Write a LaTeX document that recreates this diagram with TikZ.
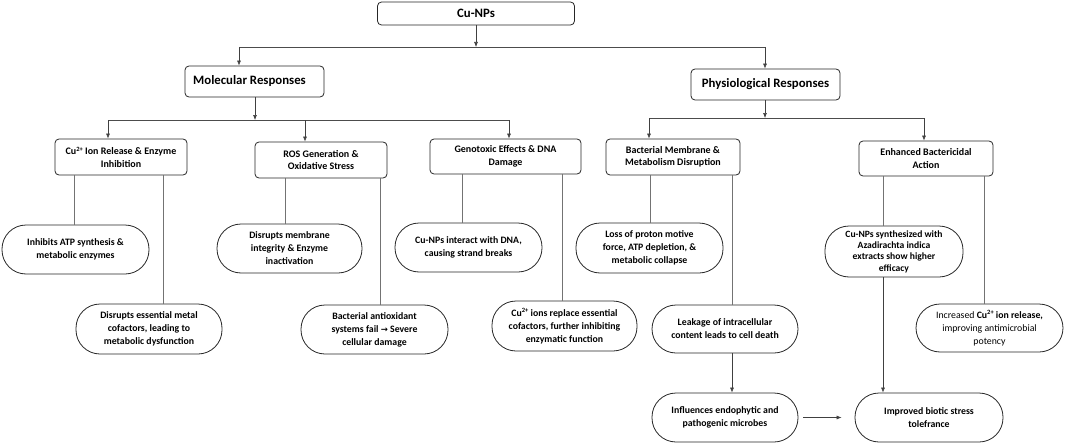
\documentclass[tikz,border=0pt]{standalone}
\usepackage{fontspec}
\setmainfont{Carlito}
\newfontfamily\arrfont{DejaVu Sans}
\usetikzlibrary{arrows.meta,calc}
\newcommand{\supp}[1]{\raisebox{0.35em}{\fontsize{6.5}{6.5}\selectfont #1}}
\begin{document}
\begin{tikzpicture}[x=1pt,y=-1pt,
 box/.style={draw=black!85, rounded corners=4pt, line width=0.8pt, align=center, font=\bfseries\fontsize{10}{12.5}\selectfont, inner sep=0pt},
 topbox/.style={box, font=\bfseries\fontsize{12.8}{15}\selectfont},
 leaf/.style={draw=black!85, rounded corners=24pt, line width=0.8pt, align=center, font=\bfseries\fontsize{9.8}{13}\selectfont, inner sep=0pt},
 conn/.style={draw=black!55, line width=0.6pt},
 arr/.style={draw=black!75, line width=0.6pt, -{Latex[length=5pt,width=4pt]}},
]
\useasboundingbox (0,0) rectangle (1065,444);
% top
\node[topbox, minimum width=197, minimum height=23] (cu) at (476,13.5) {Cu-NPs};
\node[topbox, minimum width=139, minimum height=31] (mol) at (254.5,81.5) {\hspace*{-10pt}Molecular Responses};
\node[topbox, minimum width=149, minimum height=31] (phys) at (765.5,84.5) {Physiological Responses};
% children
\node[box, minimum width=132, minimum height=36] (c1) at (121,157) {Cu\supp{2+} Ion Release \& Enzyme\\Inhibition};
\node[box, minimum width=132, minimum height=36] (c2) at (321,160) {ROS Generation \&\\Oxidative Stress};
\node[box, minimum width=151, minimum height=35] (c3) at (505.5,156.5) {Genotoxic Effects \& DNA\\Damage};
\node[box, minimum width=134, minimum height=36] (c4) at (673,157) {Bacterial Membrane \&\\Metabolism Disruption};
\node[box, minimum width=134, minimum height=35] (c5) at (926,158.5) {Enhanced Bactericidal\\Action};
% leaves
\node[leaf, minimum width=147, minimum height=49] (l1) at (75.5,249.5) {Inhibits ATP synthesis \&\\metabolic enzymes};
\node[leaf, minimum width=146, minimum height=50] (l2) at (149,329) {Disrupts essential metal\\cofactors, leading to\\metabolic dysfunction};
\node[leaf, minimum width=145, minimum height=49] (l3) at (289.5,248.5) {Disrupts membrane\\integrity \& Enzyme\\inactivation};
\node[leaf, minimum width=147, minimum height=49] (l4) at (374.5,329.5) {Bacterial antioxidant\\systems fail {\arrfont\bfseries\fontsize{8.5}{13}\selectfont →} Severe\\cellular damage};
\node[leaf, minimum width=147, minimum height=49] (l5) at (468.5,247.5) {Cu-NPs interact with DNA,\\causing strand breaks};
\node[leaf, minimum width=145, minimum height=50] (l6) at (564.5,326) {Cu\supp{2+} ions replace essential\\cofactors, further inhibiting\\enzymatic function};
\node[leaf, minimum width=147, minimum height=50] (l7) at (649.5,248) {Loss of proton motive\\force, ATP depletion, \&\\metabolic collapse};
\node[leaf, minimum width=146, minimum height=48] (l8) at (725,329) {Leakage of intracellular\\content leads to cell death};
\node[leaf, minimum width=138, minimum height=51, font=\bfseries\fontsize{9.6}{11.3}\selectfont] (l9) at (894,251.5) {Cu-NPs synthesized with\\Azadirachta indica\\extracts show higher\\efficacy};
\node[leaf, minimum width=147, minimum height=48, font=\mdseries\fontsize{9.8}{13}\selectfont] (l10) at (989.5,328) {Increased \textbf{Cu\supp{2+} ion release,}\\improving antimicrobial\\potency};
\node[leaf, minimum width=146, minimum height=49] (l11) at (725,417.5) {Influences endophytic and\\pathogenic microbes};
\node[leaf, minimum width=148, minimum height=49] (l12) at (929,417.5) {Improved biotic stress\\tolefrance};
% junctions
\coordinate (j0) at (476,47);
\coordinate (jL) at (239,47);
\coordinate (jR) at (765,47);
\coordinate (j1) at (255,120);
\coordinate (j1a) at (108,120);
\coordinate (j1b) at (305,120);
\coordinate (j1c) at (509,120);
\coordinate (j2) at (765,118);
\coordinate (j2a) at (649,118);
\coordinate (j2b) at (924,118);
% level 1
\draw[arr] (cu) -- (j0);
\draw[conn, draw=black!70] (jL) -- (jR);
\draw[arr] (jL) -- (mol.north -| jL);
\draw[arr] (jR) -- (phys.north -| jR);
% molecular branch
\draw[arr] (mol.south -| j1) -- (j1);
\draw[conn, draw=black!70] (j1a) -- (j1c);
\draw[arr] (j1a) -- (c1.north -| j1a);
\draw[arr] (j1b) -- (c2.north -| j1b);
\draw[arr] (j1c) -- (c3.north -| j1c);
% physiological branch
\draw[arr] (phys.south -| j2) -- (j2);
\draw[conn, draw=black!70] (j2a) -- (j2b);
\draw[arr] (j2a) -- (c4.north -| j2a);
\draw[arr] (j2b) -- (c5.north -| j2b);
% leaf lines
\coordinate (x1) at (74,0); \coordinate (x2) at (163,0);
\coordinate (x3) at (285,0); \coordinate (x4) at (380,0);
\coordinate (x5) at (462,0); \coordinate (x6) at (562,0);
\coordinate (x7) at (650,0); \coordinate (x8) at (732,0);
\coordinate (x9) at (883,0); \coordinate (x10) at (984,0);
\draw[conn] (c1.south -| x1) -- (l1.north -| x1);
\draw[conn] (c1.south -| x2) -- (l2.north -| x2);
\draw[conn] (c2.south -| x3) -- (l3.north -| x3);
\draw[conn] (c2.south -| x4) -- (l4.north -| x4);
\draw[conn] (c3.south -| x5) -- (l5.north -| x5);
\draw[conn] (c3.south -| x6) -- (l6.north -| x6);
\draw[conn] (c4.south -| x7) -- (l7.north -| x7);
\draw[conn] (c4.south -| x8) -- (l8.north -| x8);
\draw[conn] (c5.south -| x9) -- (l9.north -| x9);
\draw[conn] (c5.south -| x10) -- (l10.north -| x10);
% lower arrows
\draw[arr] (l8.south -| x8) -- (l11.north -| x8);
\draw[arr] (l9.south -| x9) -- (l12.north -| x9);
\draw[arr, shorten <=5pt, shorten >=13pt] (l11) -- (l12);
\end{tikzpicture}
\end{document}
